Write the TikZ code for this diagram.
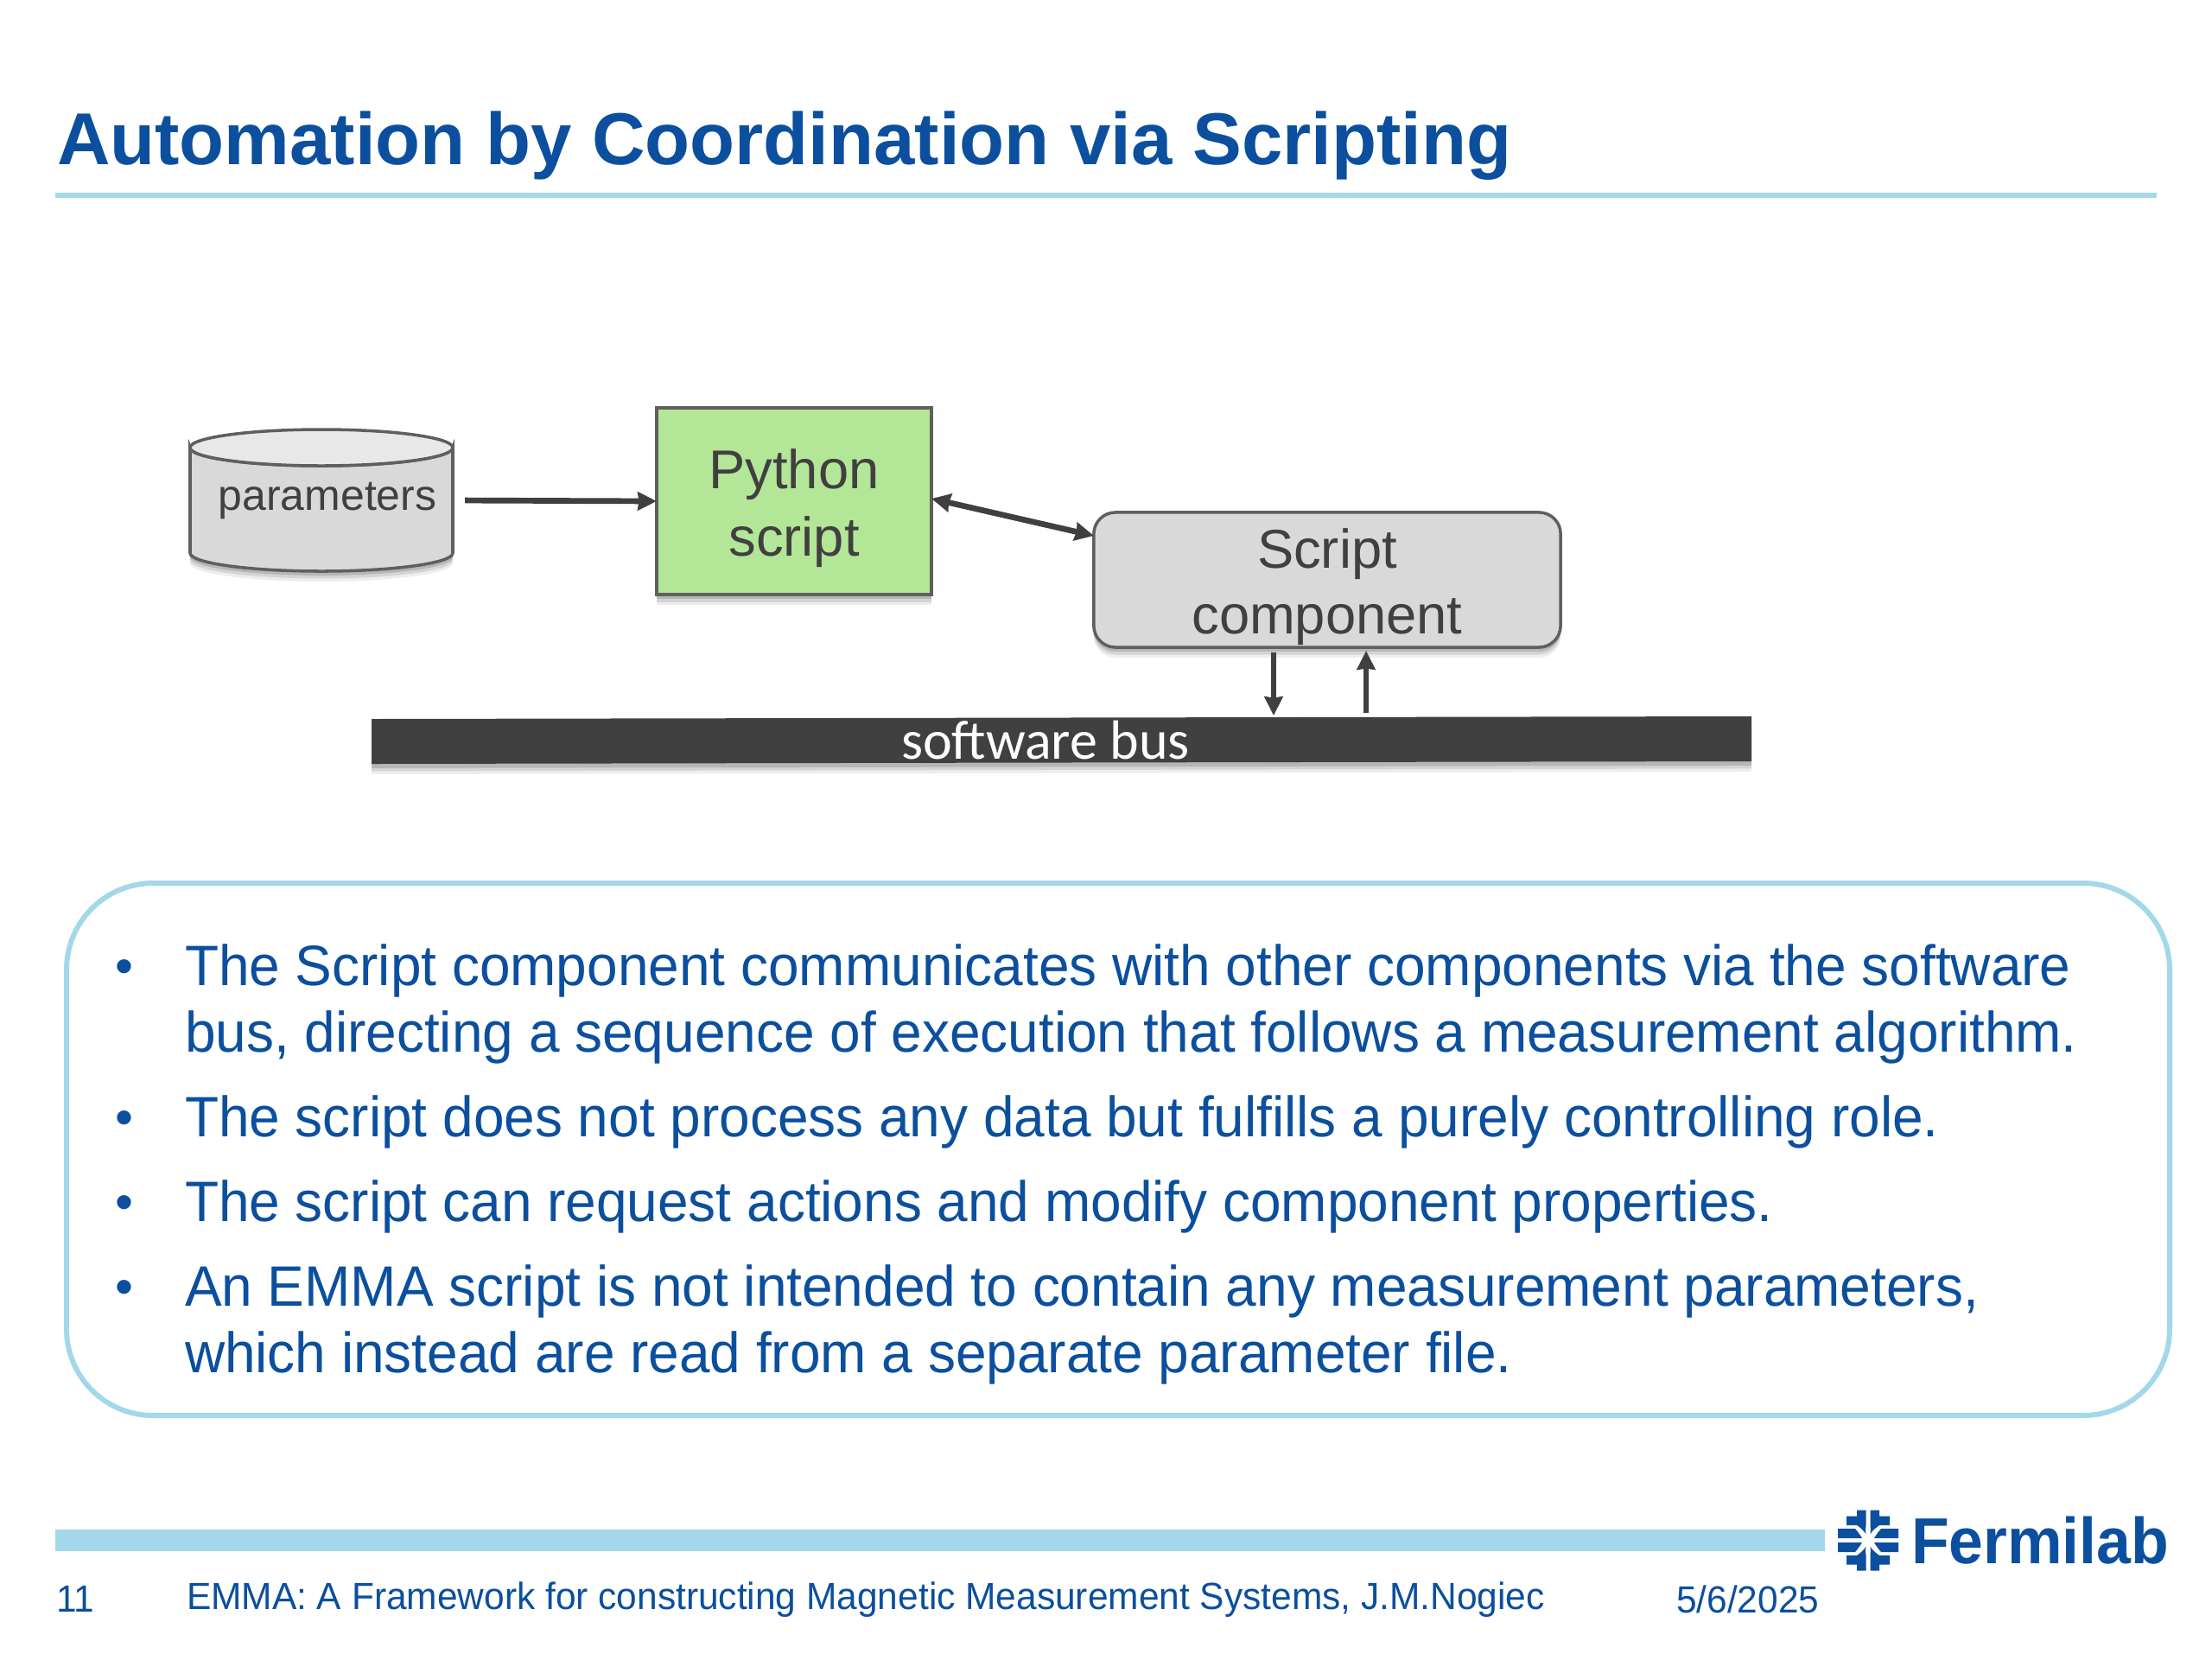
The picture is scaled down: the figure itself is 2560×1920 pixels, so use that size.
\documentclass[tikz,border=0pt]{standalone}
\usepackage{fontspec}
\setmainfont{Liberation Sans}
\newfontfamily\busfont{Carlito}
\newfontfamily\narrowfont[FakeStretch=0.97]{Liberation Sans}
\newfontfamily\logofont[FakeStretch=0.95]{Liberation Sans Bold}
\usetikzlibrary{arrows.meta,shadows}
\definecolor{fnalblue}{HTML}{0B4F9E}
\definecolor{rulecyan}{HTML}{A3D8EA}
\definecolor{inkgrey}{HTML}{404040}
\definecolor{boxgrey}{HTML}{D9D9D9}
\definecolor{topgrey}{HTML}{E8E8E8}
\definecolor{boxgreen}{HTML}{B3E697}
\definecolor{edgegrey}{HTML}{5F5F5F}
\newcommand{\px}[1]{\fontsize{#1}{#1}\selectfont}
\tikzset{
  softshadow/.style={
    drop shadow={shadow xshift=0pt,shadow yshift=-3.4pt,opacity=.07,fill=black},
    drop shadow={shadow xshift=0pt,shadow yshift=-2.4pt,opacity=.10,fill=black},
    drop shadow={shadow xshift=0pt,shadow yshift=-1.4pt,opacity=.14,fill=black}},
  txt/.style={inner sep=0pt,outer sep=0pt,anchor=base west,fnalblue},
  bodytxt/.style={txt,font=\narrowfont\px{18.75}},
  bullet/.style={inner sep=0pt,outer sep=0pt,anchor=base,fnalblue,font=\px{17}},
  foot/.style={txt,font=\narrowfont\px{12.45}},
  boxtxt/.style={inner sep=0pt,outer sep=0pt,anchor=base,inkgrey,font=\px{18}},
  link/.style={inkgrey,line width=1.9pt,-{Stealth[length=6.2pt,width=6pt,inset=0.4pt]}},
  biglink/.style={link,{Stealth[length=6.2pt,width=6pt,inset=0.4pt]}-{Stealth[length=6.2pt,width=6pt,inset=0.4pt]}}
}
\begin{document}
\begin{tikzpicture}[x=0.01cm,y=-0.01cm]
\useasboundingbox (0,0) rectangle (2560,1920);
\fill[white] (0,0) rectangle (2560,1920);
% title
\node[txt,font=\bfseries\px{24.2}] (title) at (66,190) {Automation by Coordination via Scripting};
\draw[rulecyan,line width=1.9pt] (64,226) -- (2496,226);
% cylinder
\node[inner sep=0pt,outer sep=0pt,minimum width=3.04cm,minimum height=1.64cm] (cyl) at (372,579) {};
\draw[edgegrey,line width=1pt,fill=boxgrey,softshadow]
  (220,518) arc[x radius=152,y radius=21,start angle=180,end angle=0]
  -- (524,640) arc[x radius=152,y radius=21,start angle=0,end angle=180] -- cycle;
\draw[edgegrey,line width=1pt,fill=topgrey] (372,518) ellipse[x radius=152,y radius=21];
\node[boxtxt,font=\px{14.2}] (paramtxt) at (379,590) {parameters};
% python
\node[draw=edgegrey,fill=boxgreen,line width=1pt,minimum width=3.18cm,minimum height=2.16cm,inner sep=0pt,outer sep=0pt,softshadow] (py) at (919,580) {};
\node[boxtxt] (pya) at (919,565) {Python};
\node[boxtxt] (pyb) at (919,643) {script};
% script component
\node[draw=edgegrey,fill=boxgrey,line width=1pt,rounded corners=0.25cm,minimum width=5.4cm,minimum height=1.56cm,inner sep=0pt,outer sep=0pt,softshadow] (sc) at (1536,671) {};
\node[boxtxt] (sca) at (1536,657) {Script};
\node[boxtxt] (scb) at (1536,733) {component};
% bus
\fill[inkgrey,softshadow] (430,832) -- (2027,829) -- (2027,881) -- (430,884) -- cycle;
\coordinate (busdown) at (1474,828);
\coordinate (busup) at (1581,825);
\node[inner sep=0pt,outer sep=0pt,anchor=base,white,font=\busfont\px{18.2}] (bus) at (1210,878) {software bus};
% connectors
\draw[link,shorten <=0.14cm] (cyl.east) -- (py.west);
\draw[biglink] ([yshift=0.03cm]py.east) -- ([yshift=0.51cm]sc.west);
\draw[link,shorten <=0.06cm] (sc.south -| busdown) -- (busdown);
\draw[link,shorten >=0.04cm] (busup) -- (sc.south -| busup);
% panel
\draw[rulecyan,line width=1.7pt,rounded corners=1cm] (77,1022) rectangle (2511,1638);
\node[bullet] (b1) at (144,1138) {•};
\node[bodytxt] (l1) at (214,1140) {The Script component communicates with other components via the software};
\node[bodytxt] (l2) at (214,1217) {bus, directing a sequence of execution that follows a measurement algorithm.};
\node[bullet] (b2) at (144,1313) {•};
\node[bodytxt] (l3) at (214,1315) {The script does not process any data but fulfills a purely controlling role.};
\node[bullet] (b3) at (144,1411) {•};
\node[bodytxt] (l4) at (214,1413) {The script can request actions and modify component properties.};
\node[bullet] (b4) at (144,1509) {•};
\node[bodytxt] (l5) at (214,1511) {An EMMA script is not intended to contain any measurement parameters,};
\node[bodytxt] (l6) at (214,1588) {which instead are read from a separate parameter file.};
% footer
\fill[rulecyan] (64,1770) rectangle (2112,1795);
\node[foot] (pg) at (65,1865) {11};
\node[foot] (ft) at (216,1862) {EMMA: A Framework for constructing Magnetic Measurement Systems, J.M.Nogiec};
\node[foot] (dt) at (1940,1866) {5/6/2025};
% logo
\begin{scope}[shift={(2162,1782.5)}]
  \foreach \sx/\sy in {1/1,-1/1,1/-1,-1/-1}{
    \begin{scope}[xscale=\sx,yscale=\sy]
      \fill[fnalblue] (7,2.5) -- (35,2.5) -- (35,13.5) -- (15,13.5) .. controls (12,10) and (9,6) .. (7,2.5) -- cycle;
      \fill[fnalblue] (2.5,7) .. controls (3,11) and (3,13) .. (2.5,17) -- (2.5,35) -- (13,35) -- (13,28) -- (25,28) -- (25,17.5) -- (13,17.5) -- (11,16) .. controls (7,13) and (4,10) .. (2.5,7) -- cycle;
    \end{scope}
  }
\end{scope}
\node[txt,font=\logofont\px{21.4}] (fermi) at (2212,1809) {Fermilab};
\end{tikzpicture}
\end{document}
